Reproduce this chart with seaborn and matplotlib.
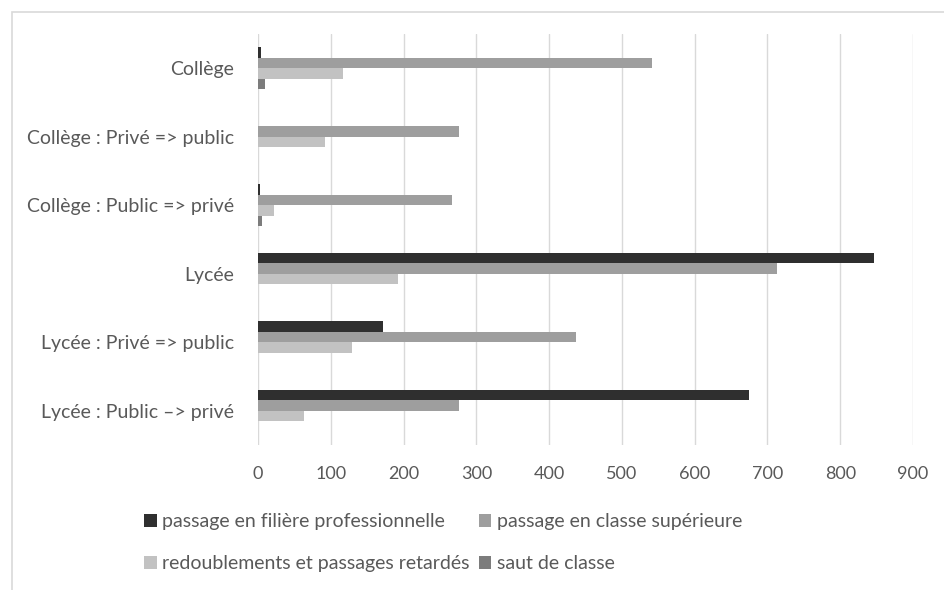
import matplotlib
matplotlib.use("Agg")
import matplotlib.pyplot as plt
from matplotlib.patches import Patch, Rectangle
import pandas as pd
import seaborn as sns

categories = [
    "Collège",
    "Collège : Privé => public",
    "Collège : Public => privé",
    "Lycée",
    "Lycée : Privé => public",
    "Lycée : Public –> privé",
]
series_names = [
    "passage en filière professionnelle",
    "passage en classe supérieure",
    "redoublements et passages retardés",
    "saut de classe",
]
filiere_pro = [4, 0, 3, 846, 172, 674]
classe_sup = [542, 276, 266, 713, 437, 276]
redoublements = [117, 92, 22, 192, 129, 63]
saut_classe = [9, 0, 6, 0, 0, 0]
x_ticks = [0, 100, 200, 300, 400, 500, 600, 700, 800, 900]

colors = ["#2f2f2f", "#9e9e9e", "#c2c2c2", "#7c7c7c"]
text_color = "#595959"

df = pd.DataFrame({
    "categorie": categories * 4,
    "serie": sum([[s] * len(categories) for s in series_names], []),
    "valeur": filiere_pro + classe_sup + redoublements + saut_classe,
})

sns.set_theme(style="white")
plt.rcParams["font.family"] = ["Lato", "DejaVu Sans"]

fig = plt.figure(figsize=(9.44, 5.90), dpi=100)
ax = fig.add_axes([258 / 944, 1 - 445 / 590, (913 - 258) / 944, (445 - 34) / 590])

sns.barplot(
    data=df, y="categorie", x="valeur", hue="serie",
    order=categories, hue_order=series_names,
    palette=colors, orient="h", width=0.62, saturation=1,
    linewidth=0, ax=ax, legend=False,
)

ax.set_xlim(0, 900)
ax.set_ylim(len(categories) - 0.5, -0.5)
ax.set_xticks(x_ticks)
ax.set_xticklabels([str(v) for v in x_ticks])
ax.set_xlabel("")
ax.set_ylabel("")
ax.grid(axis="x", color="#d9d9d9", linewidth=1.0)
ax.set_axisbelow(True)
for side in ax.spines:
    ax.spines[side].set_visible(False)
ax.tick_params(axis="x", length=0, pad=15, labelsize=13, labelcolor=text_color)
ax.tick_params(axis="y", length=0, pad=17, labelsize=14, labelcolor=text_color)

# Legend laid out in two rows of two entries
handles = [Patch(facecolor=c, edgecolor="none") for c in colors]
order = [0, 2, 1, 3]
fig.legend(
    [handles[i] for i in order], [series_names[i] for i in order],
    loc="upper left", bbox_to_anchor=(144 / 944, 1 - 513 / 590),
    ncol=2, frameon=False, fontsize=14, labelcolor=text_color,
    handlelength=0.65, handleheight=0.65, handletextpad=0.3,
    columnspacing=0.45, labelspacing=1.3, borderpad=0, borderaxespad=0,
)

# Outer chart frame
fig.add_artist(Rectangle((12 / 944, -0.1), 1.2, 1 - 12 / 590 + 0.1,
                         transform=fig.transFigure, fill=False,
                         edgecolor="#d9d9d9", linewidth=1.2))

fig.savefig("out.png", dpi=100)
